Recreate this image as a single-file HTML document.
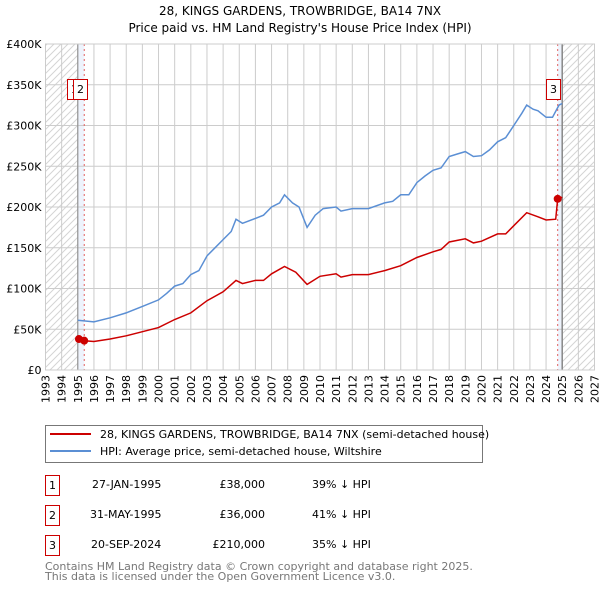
<!DOCTYPE html>
<html><head><meta charset="utf-8"><style>
body{margin:0;background:#fff;font-family:"DejaVu Sans","Liberation Sans",sans-serif;}
svg text{font-family:"DejaVu Sans","Liberation Sans",sans-serif;}
</style></head><body>
<svg id="c" width="600" height="590" xmlns="http://www.w3.org/2000/svg">
<defs><pattern id="hatch" width="7" height="7" patternUnits="userSpaceOnUse"><path d="M-1,1 L1,-1 M0,7 L7,0 M6,8 L8,6" stroke="#d4d4d4" stroke-width="1"/></pattern></defs>
<text x="300" y="15" text-anchor="middle" font-size="12">28, KINGS GARDENS, TROWBRIDGE, BA14 7NX</text>
<text x="300" y="32" text-anchor="middle" font-size="12">Price paid vs. HM Land Registry's House Price Index (HPI)</text>
<g id="plot"></g>
<g>
<rect x="45.5" y="425.5" width="437" height="37" fill="#fff" stroke="#777"/>
<line x1="50" y1="434" x2="91" y2="434" stroke="#cc0000" stroke-width="2"/>
<text x="100" y="438" font-size="11">28, KINGS GARDENS, TROWBRIDGE, BA14 7NX (semi-detached house)</text>
<line x1="50" y1="451" x2="91" y2="451" stroke="#5b8fd4" stroke-width="2"/>
<text x="100" y="455" font-size="11">HPI: Average price, semi-detached house, Wiltshire</text>
</g>
<g font-size="11">
<rect x="45.5" y="475.5" width="14" height="20" fill="none" stroke="#cc0000"/><text x="52.5" y="489" text-anchor="middle">1</text>
<text x="92" y="488">27-JAN-1995</text><text x="265" y="488" text-anchor="end">£38,000</text><text x="312" y="488">39% ↓ HPI</text>
<rect x="45.5" y="505.5" width="14" height="20" fill="none" stroke="#cc0000"/><text x="52.5" y="519" text-anchor="middle">2</text>
<text x="90" y="518">31-MAY-1995</text><text x="265" y="518" text-anchor="end">£36,000</text><text x="312" y="518">41% ↓ HPI</text>
<rect x="45.5" y="535.5" width="14" height="20" fill="none" stroke="#cc0000"/><text x="52.5" y="549" text-anchor="middle">3</text>
<text x="91" y="548">20-SEP-2024</text><text x="265" y="548" text-anchor="end">£210,000</text><text x="312" y="548">35% ↓ HPI</text>
</g>
<text x="45" y="570" font-size="11" fill="#777">Contains HM Land Registry data © Crown copyright and database right 2025.</text>
<text x="45" y="580" font-size="11" fill="#777">This data is licensed under the Open Government Licence v3.0.</text>
</svg>
<script>
const hpiYears=[1995.0,1996,1997,1998,1999,2000,2000.5,2001,2001.5,2002,2002.5,2003,2003.5,2004,2004.5,2004.8,2005.2,2006,2006.5,2007,2007.5,2007.8,2008.3,2008.7,2009.2,2009.7,2010.2,2011,2011.3,2012,2013,2014,2014.5,2015,2015.5,2016,2016.5,2017,2017.5,2018,2018.5,2019,2019.5,2020,2020.5,2021,2021.5,2022,2022.5,2022.8,2023.2,2023.5,2024,2024.4,2024.8,2025.0];
const hpiValues=[61,59,64,70,78,86,94,103,106,117,122,140,150,160,170,185,180,186,190,200,205,215,205,200,175,190,198,200,195,198,198,205,207,215,215,230,238,245,248,262,265,268,262,263,270,280,285,300,315,325,320,318,310,310,325,327];
const priceYears=[1995.07,1995.4,1996,1997,1998,1999,2000,2001,2002,2003,2004,2004.8,2005.2,2006,2006.5,2007,2007.8,2008.5,2009.2,2010,2011,2011.3,2012,2013,2014,2015,2016,2017,2017.5,2018,2019,2019.5,2020,2021,2021.5,2022,2022.8,2023.5,2024,2024.6,2024.72,2025.0];
const priceValues=[38,36,35,38,42,47,52,62,70,85,96,110,106,110,110,118,127,120,105,115,118,114,117,117,122,128,138,145,148,157,161,156,158,167,167,177,193,188,184,185,210,212];
const saleYears=[1995.07,1995.4,2024.72];
const saleValues=[38,36,210];
const saleLabels=["1","2","3"];
const yTicks=[0,50,100,150,200,250,300,350,400];
const yTickLabels=["£0","£50K","£100K","£150K","£200K","£250K","£300K","£350K","£400K"];
const xTicks=[1993,1994,1995,1996,1997,1998,1999,2000,2001,2002,2003,2004,2005,2006,2007,2008,2009,2010,2011,2012,2013,2014,2015,2016,2017,2018,2019,2020,2021,2022,2023,2024,2025,2026,2027];

const NS="http://www.w3.org/2000/svg";
const X0=45.5,X1=594.5,Y0=370,Y1=44;
const xs=v=>X0+(v-1993)/(2027-1993)*(X1-X0);
const ys=v=>Y0-(v/400)*(Y0-Y1);
const g=document.getElementById('plot');
function mk(t,a,p){const e=document.createElementNS(NS,t);for(const k in a)e.setAttribute(k,a[k]);(p||g).appendChild(e);return e;}
let h1=mk('rect',{x:X0,y:Y1,width:xs(1995.0)-X0,height:Y0-Y1,fill:'url(#hatch)'});


let h2=mk('rect',{x:xs(2025.0),y:Y1,width:X1-xs(2025.0),height:Y0-Y1,fill:'url(#hatch)'});


let b1=mk('rect',{x:xs(1995.0),y:Y1,width:xs(1995.4)-xs(1995.0),height:Y0-Y1,fill:'#eef3fc'});


let b2=mk('rect',{x:xs(2024.72),y:Y1,width:xs(2025.0)-xs(2024.72),height:Y0-Y1,fill:'#eef3fc'});


xTicks.forEach(t=>{const l=mk('line',{x1:xs(t),x2:xs(t),y1:Y1,y2:Y0,stroke:'#ccc'});


const tx=mk('text',{x:0,y:0,'font-size':11,'text-anchor':'end',transform:`translate(${xs(t)+4},${Y0+5}) rotate(-90)`});tx.textContent=t;

});
yTicks.forEach((t,i)=>{const l=mk('line',{x1:X0,x2:X1,y1:ys(t),y2:ys(t),stroke:'#ccc'});


const tx=mk('text',{x:X0-4,y:ys(t)+4,'font-size':11,'text-anchor':'end'});tx.textContent=yTickLabels[i];

});
let v1=mk('line',{x1:xs(1995.0),x2:xs(1995.0),y1:Y1,y2:Y0,stroke:'#888','stroke-width':1});


let v2=mk('line',{x1:xs(2025.0),x2:xs(2025.0),y1:Y1,y2:Y0,stroke:'#888','stroke-width':1.5});


saleYears.slice(1).forEach(s=>{const l=mk('line',{x1:xs(s),x2:xs(s),y1:Y1,y2:Y0,stroke:'#e06060','stroke-dasharray':'2,3'});

});
const pts=(a,b)=>a.map((x,i)=>xs(x).toFixed(1)+','+ys(b[i]).toFixed(1)).join(' ');
let hp=mk('polyline',{points:pts(hpiYears,hpiValues),fill:'none',stroke:'#5b8fd4','stroke-width':1.5});


let pp=mk('polyline',{points:pts(priceYears,priceValues),fill:'none',stroke:'#cc0000','stroke-width':1.5});


saleYears.forEach((s,i)=>{const c=mk('circle',{cx:xs(s),cy:ys(saleValues[i]),r:4,fill:'#cc0000'});

});
const boxX=[67.5,73.5,546.5];
saleLabels.forEach((lb,i)=>{const bx=mk('rect',{x:boxX[i],y:79.5,width:14,height:20,fill:'#fff',stroke:'#cc0000'});


const t=mk('text',{x:boxX[i]+7,y:93,'font-size':11,'text-anchor':'middle'});t.textContent=lb;

});
let fr=mk('rect',{x:X0,y:Y1,width:X1-X0,height:Y0-Y1,fill:'none',stroke:'#ccc'});


</script>
</body></html>
